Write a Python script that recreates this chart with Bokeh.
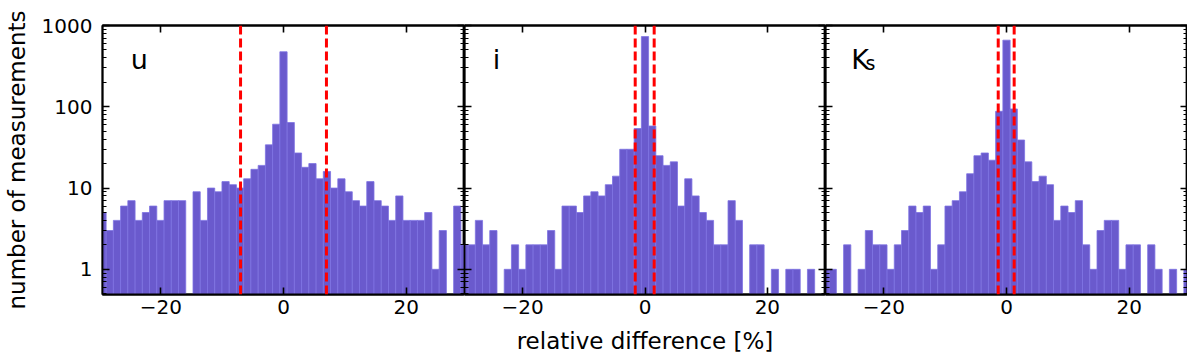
import numpy as np
from bokeh.plotting import figure
from bokeh.models import (Range1d, LinearAxis, LogAxis, FixedTicker, Span, Label,
                          NumeralTickFormatter, ColumnDataSource, CustomJSTickFormatter)
from bokeh.layouts import row
from bokeh.embed import file_html
from bokeh.resources import INLINE

# ---------------- data ----------------
bin_width = 1.18
bin_index = list(range(-25, 26))

counts_u = [5, 3, 4, 6, 7, 4, 5, 6, 4, 7, 7, 7, 0, 9, 4, 10, 9, 12, 11, 10, 13, 17, 19, 34, 61,
            475,
            64, 27, 18, 20, 13, 16, 10, 13, 9, 7, 6, 12, 7, 6, 4, 8, 4, 4, 4, 5, 1, 3, 0, 6, 2]
counts_i = [2, 2, 4, 2, 3, 0, 1, 2, 1, 2, 2, 2, 3, 1, 6, 6, 5, 8, 9, 8, 11, 14, 30, 30, 54,
            730,
            58, 25, 19, 21, 6, 13, 8, 5, 4, 2, 2, 7, 4, 0, 2, 2, 0, 1, 0, 1, 1, 0, 1, 0, 0]
counts_ks = [1, 1, 0, 2, 0, 1, 3, 2, 2, 1, 2, 3, 6, 5, 6, 1, 2, 6, 7, 9, 15, 25, 27, 22, 88,
             660,
             94, 39, 21, 12, 14, 11, 4, 6, 5, 7, 2, 1, 3, 4, 4, 1, 2, 2, 0, 2, 1, 0, 1, 0, 1]

limits_u = [-7.0, 7.0]
limits_i = [-1.6, 1.5]
limits_ks = [-1.35, 1.25]

x_major = [-20, 0, 20]
y_major = [1, 10, 100, 1000]
y_minor = [m * 10.0 ** e for e in (-1, 0, 1, 2) for m in range(2, 10)]

band_labels = [("u", None), ("i", None), ("K", "s")]

FONT = "DejaVu Sans"
BAR = "#6A5ACD"
BAR_EDGE = "#7E72E2"
FRAME_W = [362, 361, 362]


def style_axis(ax, ticker, show_labels, minor=True):
    ax.ticker = ticker
    ax.major_tick_in = 7
    ax.major_tick_out = 0
    ax.minor_tick_in = 4 if minor else 0
    ax.minor_tick_out = 0
    ax.major_tick_line_width = 1.6
    ax.minor_tick_line_width = 1.2
    ax.axis_line_width = 1.8
    ax.axis_line_color = "black"
    ax.major_tick_line_color = "black"
    ax.minor_tick_line_color = "black" if minor else None
    ax.major_label_text_font = FONT
    ax.major_label_text_color = "black"
    if show_labels:
        ax.major_label_text_font_size = "20px"
    else:
        ax.formatter = CustomJSTickFormatter(code="return '';")
        ax.major_label_text_font_size = "1px"
        ax.major_label_standoff = 0


def make_panel(counts, limits, idx, label):
    first = idx == 0
    middle = idx == 1
    p = figure(frame_width=FRAME_W[idx], frame_height=269,
               x_range=Range1d(-29.5, 29.5), y_range=Range1d(0.49, 1000),
               y_axis_type="log", output_backend="svg", toolbar_location=None,
               min_border_left=100 if first else 0, min_border_right=0,
               min_border_top=25, min_border_bottom=60)
    p.grid.visible = False
    p.outline_line_color = "black"
    p.outline_line_width = 1.8
    p.background_fill_color = "white"

    centers = np.array(bin_index) * bin_width
    c = np.array(counts, dtype=float)
    mask = c > 0
    src = ColumnDataSource(dict(left=centers[mask] - bin_width / 2,
                                right=centers[mask] + bin_width / 2,
                                top=c[mask], bottom=np.full(mask.sum(), 0.1)))
    p.quad(left="left", right="right", top="top", bottom="bottom", source=src,
           fill_color=BAR, line_color=BAR_EDGE, line_width=0.8)

    for loc in limits:
        p.add_layout(Span(location=loc, dimension="height", line_color="red",
                          line_width=3, line_dash="9 4"))

    # left (log) axis
    yl = p.yaxis[0]
    style_axis(yl, FixedTicker(ticks=y_major, minor_ticks=y_minor), first)
    if first:
        yl.formatter = NumeralTickFormatter(format="0")
        yl.major_label_standoff = 10
        yl.axis_label = "number of measurements"
        yl.axis_label_text_font = FONT
        yl.axis_label_text_font_size = "23px"
        yl.axis_label_text_font_style = "normal"
        yl.axis_label_text_color = "black"
        yl.axis_label_standoff = 9

    # right axis
    yr = LogAxis()
    style_axis(yr, FixedTicker(ticks=y_major, minor_ticks=y_minor), False)
    p.add_layout(yr, "right")

    # bottom axis
    xb = p.xaxis[0]
    style_axis(xb, FixedTicker(ticks=x_major), True, minor=False)
    xb.major_label_standoff = 5
    if middle:
        xb.axis_label = "relative difference [%]"
        xb.axis_label_text_font = FONT
        xb.axis_label_text_font_size = "23px"
        xb.axis_label_text_font_style = "normal"
        xb.axis_label_text_color = "black"
        xb.axis_label_standoff = 11

    # top axis
    xt = LinearAxis()
    style_axis(xt, FixedTicker(ticks=x_major), False, minor=False)
    p.add_layout(xt, "above")

    main, sub = label
    main_x = -25.3 if sub else -24.9
    p.add_layout(Label(x=main_x, y=385, text=main, text_font=FONT,
                       text_font_size="27px", text_color="black",
                       text_baseline="alphabetic", text_align="left"))
    if sub:
        p.add_layout(Label(x=-23.0, y=345, text=sub, text_font=FONT,
                           text_font_size="19px", text_color="black",
                           text_baseline="alphabetic", text_align="left"))
    return p


panels = [make_panel(counts_u, limits_u, 0, band_labels[0]),
          make_panel(counts_i, limits_i, 1, band_labels[1]),
          make_panel(counts_ks, limits_ks, 2, band_labels[2])]

layout = row(*panels, spacing=0)
open("out.html", "w").write(file_html(layout, INLINE))
